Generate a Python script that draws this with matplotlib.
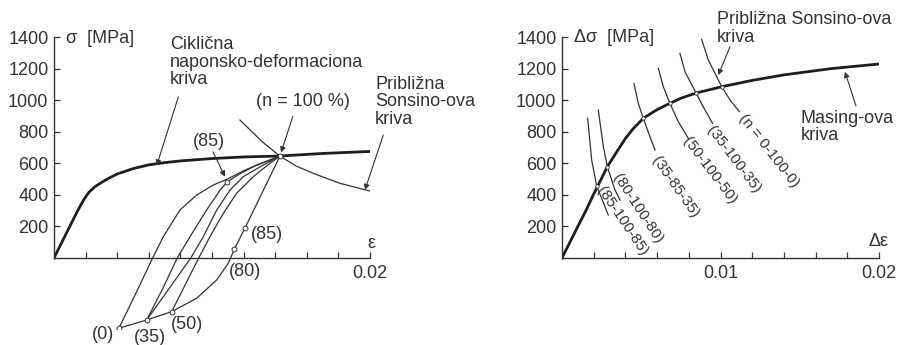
import numpy as np
import matplotlib.pyplot as plt

plt.rcParams['font.family'] = ['Liberation Sans', 'DejaVu Sans']
plt.rcParams['font.size'] = 13

# ---- Podaci: lijevi dijagram (ciklicna kriva i petlje) ---- #
ciklicna_eps = [0, 0.0005, 0.001, 0.0015, 0.0019, 0.0022, 0.0026, 0.003, 0.0035, 0.004,
                0.005, 0.006, 0.007, 0.008, 0.010, 0.012, 0.0143, 0.017, 0.02]
ciklicna_sig = [0, 100, 200, 300, 372, 415, 452, 478, 507, 532,
                566, 590, 604, 615, 630, 640, 646, 662, 675]

# rasterecenje sa n = 100 % (prava pa kriva do (0))
rast_eps = [0.0143, 0.01209, 0.01141, 0.01103, 0.0103, 0.00903, 0.00745, 0.00587, 0.00411]
rast_sig = [645, 190, 55, -34, -139, -255, -340, -393, -445]

# ponovna opterecenja
petlja_0_100_eps = [0.00411, 0.0052, 0.00618, 0.00692, 0.00797, 0.00903, 0.01008, 0.01093,
                    0.0122, 0.01367, 0.0143]
petlja_0_100_sig = [-445, -220, -13, 135, 304, 399, 462, 498, 562, 621, 645]
petlja_35_85_eps = [0.00587, 0.0069, 0.0078, 0.00861, 0.00966, 0.01051, 0.01097]
petlja_35_85_sig = [-393, -190, 0, 135, 304, 430, 483]
petlja_85_100_eps = [0.01097, 0.0118, 0.0128, 0.0143]
petlja_85_100_sig = [483, 535, 588, 645]
petlja_35_100_eps = [0.00587, 0.00866, 0.00945, 0.0103, 0.01114, 0.01198, 0.01325, 0.0143]
petlja_35_100_sig = [-393, 0, 135, 304, 430, 515, 589, 645]
petlja_50_100_eps = [0.00745, 0.00916, 0.00987, 0.01072, 0.01156, 0.01261, 0.01367, 0.0143]
petlja_50_100_sig = [-340, 0, 135, 283, 410, 515, 600, 645]

tacke_eps = [0.0143, 0.01097, 0.01209, 0.01141, 0.00745, 0.00587, 0.00411]
tacke_sig = [645, 483, 190, 55, -340, -393, -445]

sonsino_l_eps = [0.01177, 0.01316, 0.0143, 0.01532, 0.01641, 0.0181, 0.02]
sonsino_l_sig = [874, 738, 645, 583, 536, 473, 424]

# ---- Podaci: desni dijagram (Masing-ova kriva) ---- #
masing_eps = [0, 0.0005, 0.001, 0.0015, 0.002, 0.00286, 0.0035, 0.004, 0.0045, 0.00513,
              0.006, 0.00681, 0.0075, 0.00845, 0.01008, 0.012, 0.014, 0.017, 0.02]
masing_sig = [0, 100, 200, 298, 405, 578, 680, 757, 820, 885,
              940, 980, 1012, 1045, 1085, 1125, 1160, 1200, 1229]

luk_eps = [[0.00162, 0.00187, 0.00219, 0.00292],
           [0.00229, 0.00261, 0.00286, 0.00334, 0.00366],
           [0.00454, 0.00481, 0.00513, 0.00555, 0.00587],
           [0.00608, 0.00639, 0.00681, 0.00734, 0.00797],
           [0.00744, 0.00776, 0.00845, 0.00891, 0.0095],
           [0.00881, 0.00923, 0.01008, 0.0106, 0.01119]]
luk_sig = [[885, 621, 456, 272],
           [937, 705, 578, 431, 367],
           [1106, 980, 885, 768, 684],
           [1201, 1085, 980, 863, 758],
           [1296, 1180, 1047, 958, 853],
           [1385, 1254, 1085, 1001, 927]]
presjek_eps = [0.00219, 0.00286, 0.00513, 0.00681, 0.00845, 0.01008]
presjek_sig = [456, 578, 885, 980, 1047, 1085]
luk_oznake = ['(85-100-85)', '(80-100-80)', '(35-85-35)', '(50-100-50)',
              '(35-100-35)', '(n = 0-100-0)']

y_ticks = [200, 400, 600, 800, 1000, 1200, 1400]
x_ticks = [0.002 * i for i in range(1, 11)]
x_oznake_l = [''] * 9 + ['0.02']
x_oznake_d = [''] * 4 + ['0.01'] + [''] * 4 + ['0.02']

# ---- Crtanje ---- #
crna = '#1e1e1e'
siva = '#333333'

fig = plt.figure(figsize=(8.99, 3.45), dpi=100)
ax1 = fig.add_axes([54 / 899, 16 / 345, 316 / 899, 292 / 345])
ax2 = fig.add_axes([562 / 899, 16 / 345, 317 / 899, 292 / 345])


def uredi_osu(ax, oznake):
    ax.set_xlim(0, 0.02)
    ax.set_ylim(-450, 1400)
    for s in ['top', 'right']:
        ax.spines[s].set_visible(False)
    ax.spines['left'].set_bounds(0, 1400)
    ax.spines['bottom'].set_bounds(0, 0.02)
    ax.spines['bottom'].set_position(('data', 0))
    for s in ['left', 'bottom']:
        ax.spines[s].set_color(siva)
        ax.spines[s].set_linewidth(1.0)
    ax.set_yticks(y_ticks)
    ax.set_xticks(x_ticks)
    ax.set_xticklabels(oznake)
    ax.tick_params(direction='in', length=4, width=0.9, color=siva,
                   labelcolor=siva, labelsize=13)
    ax.tick_params(axis='y', pad=4)
    ax.tick_params(axis='x', pad=5)
    ax.patch.set_alpha(0)


uredi_osu(ax1, x_oznake_l)
uredi_osu(ax2, x_oznake_d)

strelica = dict(arrowstyle='-|>', lw=0.8, color=siva, mutation_scale=8,
                shrinkA=0, shrinkB=0)

# lijevi dijagram
ax1.plot(ciklicna_eps, ciklicna_sig, color=crna, lw=2.0)
for e, s in [(rast_eps, rast_sig), (petlja_0_100_eps, petlja_0_100_sig),
             (petlja_35_85_eps, petlja_35_85_sig), (petlja_85_100_eps, petlja_85_100_sig),
             (petlja_35_100_eps, petlja_35_100_sig), (petlja_50_100_eps, petlja_50_100_sig)]:
    ax1.plot(e, s, color=siva, lw=0.9)
ax1.plot(sonsino_l_eps, sonsino_l_sig, color=siva, lw=0.9)
ax1.plot(tacke_eps, tacke_sig, 'o', ms=3.5, mfc='white', mec=siva, mew=0.7)

ax1.text(0.00076, 1391, 'σ  [MPa]', va='center', ha='left', color=siva)
ax1.text(0.0201, 93, 'ε', va='center', ha='center', color=siva)
ax1.text(0.00734, 1241, 'Ciklična\nnaponsko-deformaciona\nkriva', va='center', ha='left',
         color=siva, linespacing=1.05)
ax1.annotate('', xy=(0.0065, 585), xytext=(0.00787, 1021), arrowprops=strelica)
ax1.text(0.00981, 741, '(85)', ha='center', va='center', color=siva)
ax1.annotate('', xy=(0.01082, 515), xytext=(0.01006, 673), arrowprops=strelica)
ax1.text(0.01576, 990, '(n = 100 %)', ha='center', va='center', color=siva)
ax1.annotate('', xy=(0.01437, 668), xytext=(0.01511, 895), arrowprops=strelica)
ax1.text(0.02032, 990, 'Približna\nSonsino-ova\nkriva', ha='left', va='center',
         color=siva, linespacing=1.05, clip_on=False)
ax1.annotate('', xy=(0.01968, 431), xytext=(0.02084, 779), arrowprops=strelica,
             annotation_clip=False)
ax1.text(0.01245, 146, '(85)', ha='left', va='center', color=siva)
ax1.text(0.01209, -87, '(80)', ha='center', va='center', color=siva)
ax1.text(0.00312, -488, '(0)', ha='center', va='center', color=siva, clip_on=False)
ax1.text(0.00608, -507, '(35)', ha='center', va='center', color=siva, clip_on=False)
ax1.text(0.00844, -424, '(50)', ha='center', va='center', color=siva, clip_on=False)

# desni dijagram
ax2.plot(masing_eps, masing_sig, color=crna, lw=2.0)
for e, s in zip(luk_eps, luk_sig):
    ax2.plot(e, s, color=siva, lw=0.9)
ax2.plot(presjek_eps, presjek_sig, 'o', ms=2.5, mfc='white', mec=siva, mew=0.6)

oznake_pos = [(0.00377, 236, -56), (0.00475, 315, -57), (0.00717, 448, -55),
              (0.00934, 553, -53), (0.01085, 621, -53), (0.01302, 680, -52)]
for txt, (x, y, r) in zip(luk_oznake, oznake_pos):
    ax2.text(x, y, txt, ha='center', va='center', rotation=r, rotation_mode='anchor',
             fontsize=11, color=siva)

ax2.text(0.00076, 1400, 'Δσ  [MPa]', va='center', ha='left', color=siva)
ax2.text(0.01996, 103, 'Δε', va='center', ha='center', color=siva)
ax2.text(0.00976, 1454, 'Približna Sonsino-ova\nkriva', ha='left', va='center',
         color=siva, linespacing=1.05, clip_on=False)
ax2.annotate('', xy=(0.00986, 1159), xytext=(0.0106, 1338), arrowprops=strelica)
ax2.text(0.01506, 830, 'Masing-ova\nkriva', ha='left', va='center', color=siva,
         linespacing=1.05)
ax2.annotate('', xy=(0.01785, 1180), xytext=(0.01855, 963), arrowprops=strelica)

fig.savefig('out.png', dpi=100)
